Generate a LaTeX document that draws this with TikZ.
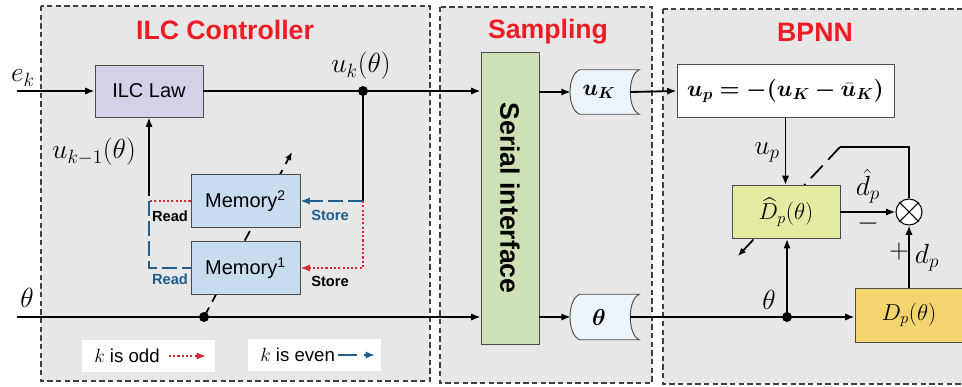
\documentclass[tikz,border=0pt]{standalone}
\usepackage{amsmath,bm}
\usepackage{fontspec}
\setmainfont{Liberation Sans}
\usetikzlibrary{arrows.meta,calc}
\definecolor{titlered}{HTML}{EE1C25}
\definecolor{panelfill}{HTML}{E7E7E7}
\definecolor{ilcfill}{HTML}{D3D1E8}
\definecolor{memfill}{HTML}{C8DCF0}
\definecolor{serfill}{HTML}{CDE0B6}
\definecolor{storefill}{HTML}{EBF3FB}
\definecolor{dhfill}{HTML}{E4EBA3}
\definecolor{dpfill}{HTML}{F3D46E}
\definecolor{oddred}{HTML}{D52B34}
\definecolor{evenblue}{HTML}{1F5E8C}
\begin{document}
\begin{tikzpicture}[x=0.75pt,y=-0.75pt,
  panel/.style={draw=black!75, fill=panelfill, line width=0.8pt, dash pattern=on 4pt off 2.5pt},
  title/.style={text=titlered, font=\fontsize{20}{24}\selectfont\bfseries},
  blk/.style={draw=black!70, line width=0.7pt, inner sep=0pt, font=\fontsize{15}{18}\selectfont},
  wire/.style={line width=1.4pt},
  tip/.style={-{Latex[length=7pt,width=5.5pt]}},
  arr/.style={wire, tip},
  lbl/.style={font=\fontsize{19.5}{22}\selectfont, inner sep=0pt},
  slbl/.style={font=\fontsize{18}{21}\selectfont, inner sep=0pt},
  dotn/.style={circle, fill=black, inner sep=0pt, minimum size=7.5pt},
  rw/.style={font=\fontsize{11}{13}\selectfont\bfseries, inner sep=0pt},
  odd/.style={draw=oddred, line width=1.6pt, dash pattern=on 1.6pt off 1.6pt},
  even/.style={draw=evenblue, line width=1.5pt, dash pattern=on 11pt off 4pt},
  store/.style={draw=black!70, fill=storefill, line width=0.7pt},
]
\useasboundingbox (0,0) rectangle (962,386);
% panels
\path[panel] (41,6) rectangle (430,381);
\path[panel] (440,7) rectangle (652,383);
\path[panel] (663,9) rectangle (975,384);
\node[title] (t1) at (225,30) {ILC Controller};
\node[title] (t2) at (548,32) {Sampling};
\node[title] (t3) at (815,32) {BPNN};
% adaptation / switch lines (behind boxes)
\coordinate (swbase) at (204,317);
\coordinate (swtip) at (292,152);
\draw[line width=1.3pt, dash pattern=on 8pt off 5pt, -{Latex[length=6pt,width=5pt]}] (swbase) -- (swtip);
\coordinate (fbc) at (840,147);
\coordinate (adtip) at (738,256);
\draw[line width=1.3pt, dash pattern=on 13pt off 6pt, -{Latex[length=6pt,width=5pt]}] (fbc) -- (adtip);
% ILC blocks
\node[blk, fill=ilcfill, minimum width=81pt, minimum height=39pt] (ilc) at (149,91) {ILC Law};
\node[blk, fill=memfill, minimum width=81.75pt, minimum height=39.75pt] (m2) at (245.5,201) {Memory\textsuperscript{2}};
\node[blk, fill=memfill, minimum width=81.75pt, minimum height=39.75pt] (m1) at (245.5,268) {Memory\textsuperscript{1}};
% sampling
\node[blk, fill=serfill, minimum width=43.5pt, minimum height=219pt] (ser) at (510,198) {};
\node[rotate=-90, font=\fontsize{20}{24}\selectfont\bfseries] (sertxt) at (ser.center) {Serial interface};
\path node[minimum width=51pt, minimum height=33pt, inner sep=0pt] (uK) at (605,92) {};
\filldraw[store] ($(uK.north west)+(9,0)$) -- (uK.north east)
  .. controls ($(uK.north east)+(-12,5)$) and ($(uK.south east)+(-12,-5)$) .. (uK.south east)
  -- ($(uK.south west)+(9,0)$)
  .. controls ($(uK.south west)+(-4,-5)$) and ($(uK.north west)+(-4,5)$) .. cycle;
\node[slbl] (uKt) at (599,92) {$\bm{u_K}$};
\path node[minimum width=51pt, minimum height=33.75pt, inner sep=0pt] (th) at (605,317) {};
\filldraw[store] ($(th.north west)+(9,0)$) -- (th.north east)
  .. controls ($(th.north east)+(-12,5)$) and ($(th.south east)+(-12,-5)$) .. (th.south east)
  -- ($(th.south west)+(9,0)$)
  .. controls ($(th.south west)+(-4,-5)$) and ($(th.north west)+(-4,5)$) .. cycle;
\node[slbl] (tht) at (599,317) {$\bm{\theta}$};
% BPNN
\node[blk, fill=white, minimum width=162.75pt, minimum height=39.75pt, font=\fontsize{17.5}{20}\selectfont] (up) at (785.5,91) {$\bm{u_p = -(u_K - \bar{u}_K)}$};
\node[blk, fill=dhfill, minimum width=81pt, minimum height=39.75pt, font=\fontsize{18}{21}\selectfont] (dh) at (786,212) {$\widehat{D}_p(\theta)$};
\node[circle, draw=black, fill=white, minimum size=19.5pt, inner sep=0pt, line width=0.8pt] (sum) at (909,212) {};
\draw[line width=0.8pt] (sum.north west) -- (sum.south east) (sum.north east) -- (sum.south west);
\node[blk, fill=dpfill, minimum width=81pt, minimum height=40.5pt, font=\fontsize{18}{21}\selectfont] (dp) at (909,315) {$D_p(\theta)$};
% ILC wires
\coordinate (ekc) at (17,91);
\draw[arr] (ekc) -- (ilc.west);
\node[lbl] (ek) at (23,78) {$e_k$};
\coordinate (dk) at (363,91);
\draw[wire] (ilc.east) -- (dk);
\draw[arr] (dk) -- (ser.west |- dk);
\node[lbl] (uklbl) at (361,66) {$u_k(\theta)$};
\coordinate (stc) at (363,201);
\draw[wire] (dk) -- (stc);
\draw[even, tip] (stc) -- (m2.east);
\draw[odd, tip] (stc) |- (m1.east);
\coordinate (rdc) at (149,201);
\draw[odd] (m2.west) -- (rdc);
\draw[even] (rdc) |- (m1.west);
\draw[arr] ($(rdc)+(0,-5)$) -- (ilc.south);
\node[lbl] (ukm1) at (94,152) {$u_{k-1}(\theta)$};
\node[rw, text=black] (rd1) at (170,216) {Read};
\node[rw, text=evenblue] (rd2) at (170,279) {Read};
\node[rw, text=evenblue] (st1) at (330,215) {Store};
\node[rw, text=black] (st2) at (330,281) {Store};
\node[dotn] (dk1) at (dk) {};
% theta wires
\coordinate (thc) at (17,317);
\draw[wire] (thc) -- (swbase);
\draw[arr] (swbase) -- (ser.west |- swbase);
\node[dotn] (dsw) at (swbase) {};
\node[lbl] (thl) at (27,298) {$\theta$};
% sampling wires
\draw[arr] (ser.east |- uK) -- (uK.west);
\draw[arr] (ser.east |- th) -- (th.west);
\draw[arr] ($(uK.east)+(-9,0)$) -- (up.west);
% BPNN wires
\coordinate (db) at (787,317);
\draw[wire] ($(th.east)+(-9,0)$) -- (db);
\draw[arr] (db) -- (dp.west |- db);
\draw[arr] (db) -- (db |- dh.south);
\node[dotn] (db1) at (db) {};
\node[lbl] (thl2) at (769,300) {$\theta$};
\draw[arr] (up.south) -- (up.south |- dh.north);
\node[lbl] (upl) at (767,152) {$u_p$};
\draw[arr] (dh.east) -- (sum.west);
\node[lbl] (dhl) at (868,186) {$\hat{d}_p$};
\node[lbl] (minus) at (868,224) {$-$};
\draw[arr] (dp.north) -- (sum.south);
\node[lbl] (plus) at (899,252) {$+$};
\node[lbl] (dpl) at (927,258) {$d_p$};
\draw[wire] (sum.north) |- (fbc);
% legend
\node[fill=white, minimum width=99.75pt, minimum height=24pt, inner sep=0pt] (lg1) at (148.5,356) {};
\node[fill=white, minimum width=99.75pt, minimum height=24pt, inner sep=0pt] (lg2) at (314.5,355) {};
\node[anchor=west, inner sep=0pt, font=\fontsize{14}{17}\selectfont] (lg1t) at (94,356) {$k$ is odd};
\node[anchor=west, inner sep=0pt, font=\fontsize{14}{17}\selectfont] (lg2t) at (260,355) {$k$ is even};
\coordinate (lg1b) at (206,356);
\coordinate (lg2b) at (375,355);
\draw[odd, tip] ($(lg1t.east)+(9,0)$) -- (lg1b);
\draw[even, dash pattern=on 14pt off 5pt, tip] ($(lg2t.east)+(3,0)$) -- (lg2b);
\end{tikzpicture}
\end{document}
